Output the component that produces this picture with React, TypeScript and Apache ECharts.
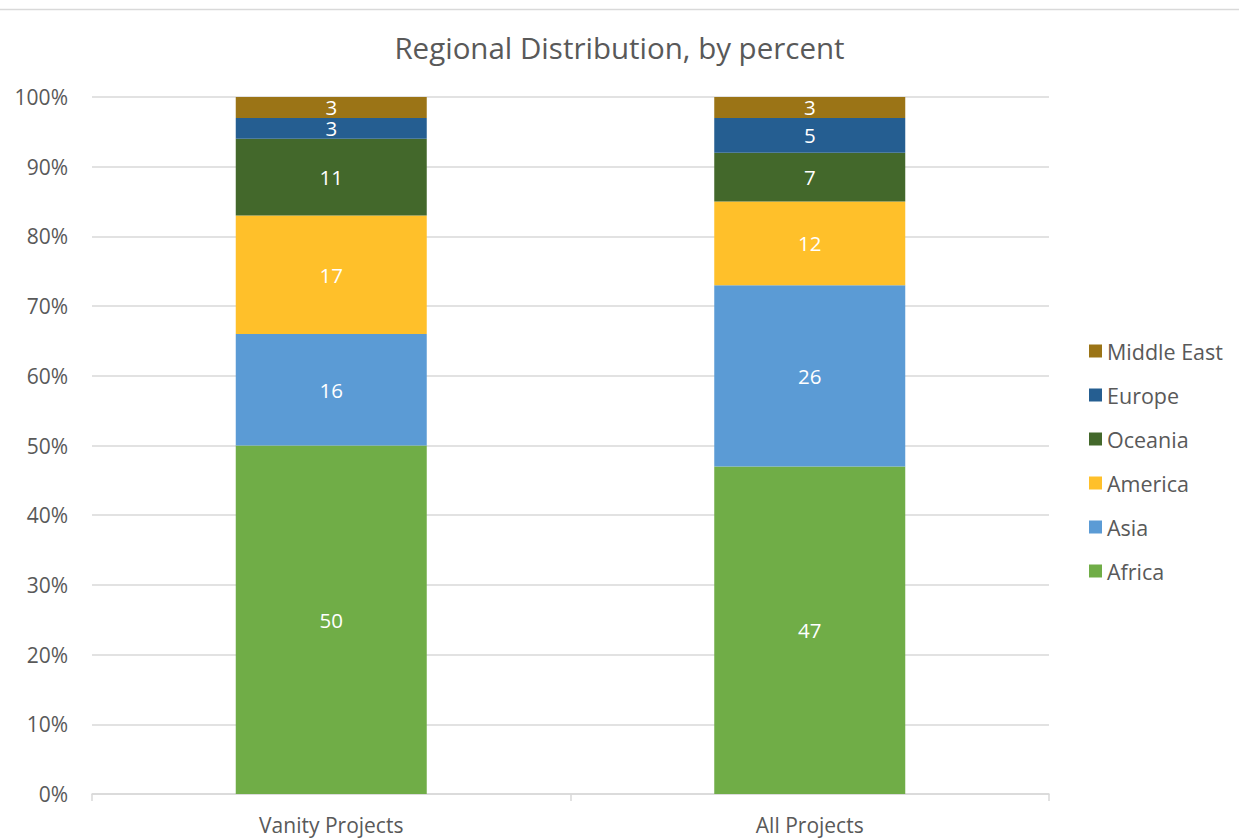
import React, { useEffect, useRef } from "react";
import * as echarts from "echarts";

const categories = ["Vanity Projects", "All Projects"];
const seriesNames = ["Africa", "Asia", "America", "Oceania", "Europe", "Middle East"];
const africa = [50, 47];
const asia = [16, 26];
const america = [17, 12];
const oceania = [11, 7];
const europe = [3, 5];
const middleEast = [3, 3];
const colors = ["#70AD47", "#5B9BD5", "#FFC02A", "#43682B", "#255E91", "#9B7416"];
const yTicks = [0, 10, 20, 30, 40, 50, 60, 70, 80, 90, 100];

const FONT = "'Open Sans', Lato, sans-serif";

export default function App() {
  const ref = useRef<HTMLDivElement>(null);
  useEffect(() => {
    document.body.style.margin = "0";
    const chart = echarts.init(ref.current!, null, { renderer: "svg" });
    const values = [africa, asia, america, oceania, europe, middleEast];
    chart.setOption({
      animation: false,
      backgroundColor: "#ffffff",
      textStyle: { fontFamily: FONT },
      title: {
        text: "Regional Distribution, by percent",
        left: "center",
        top: 27,
        textStyle: { fontSize: 29.5, fontWeight: "normal", color: "#595959", fontFamily: FONT },
      },
      graphic: [
        {
          type: "line",
          shape: { x1: 0, y1: 9.5, x2: 1239, y2: 9.5 },
          style: { stroke: "#d9d9d9", lineWidth: 1.5 },
        },
      ],
      legend: {
        orient: "vertical",
        left: 1084,
        top: 335,
        itemWidth: 13,
        itemHeight: 13,
        itemGap: 22,
        icon: "rect",
        data: [...seriesNames].reverse(),
        textStyle: { fontSize: 21.5, color: "#595959", fontFamily: FONT, lineHeight: 20 },
      },
      grid: { left: 92, right: 190, top: 97, bottom: 45, containLabel: false },
      xAxis: {
        type: "category",
        data: categories,
        axisLine: { lineStyle: { color: "#d9d9d9", width: 1.5 } },
        axisTick: { show: true, length: 7, lineStyle: { color: "#d9d9d9", width: 1.5 } },
        axisLabel: { fontSize: 21, color: "#595959", margin: 20, fontFamily: FONT },
      },
      yAxis: {
        type: "value",
        min: 0,
        max: 100,
        interval: 10,
        axisLine: { show: false },
        axisTick: { show: false },
        splitLine: { lineStyle: { color: "#d9d9d9", width: 1.5 } },
        axisLabel: {
          fontSize: 21,
          color: "#595959",
          margin: 24,
          fontFamily: FONT,
          formatter: (v: number) => (yTicks.includes(v) ? v + "%" : ""),
        },
      },
      series: seriesNames.map((name, i) => ({
        name,
        type: "bar",
        stack: "total",
        barWidth: 191,
        data: values[i],
        itemStyle: { color: colors[i] },
        label: {
          show: true,
          position: "inside",
          color: "#ffffff",
          fontSize: 20.5,
          lineHeight: 14,
          fontFamily: FONT,
        },
      })),
    });
    return () => chart.dispose();
  }, []);
  return <div ref={ref} style={{ width: 1239, height: 839 }} />;
}
